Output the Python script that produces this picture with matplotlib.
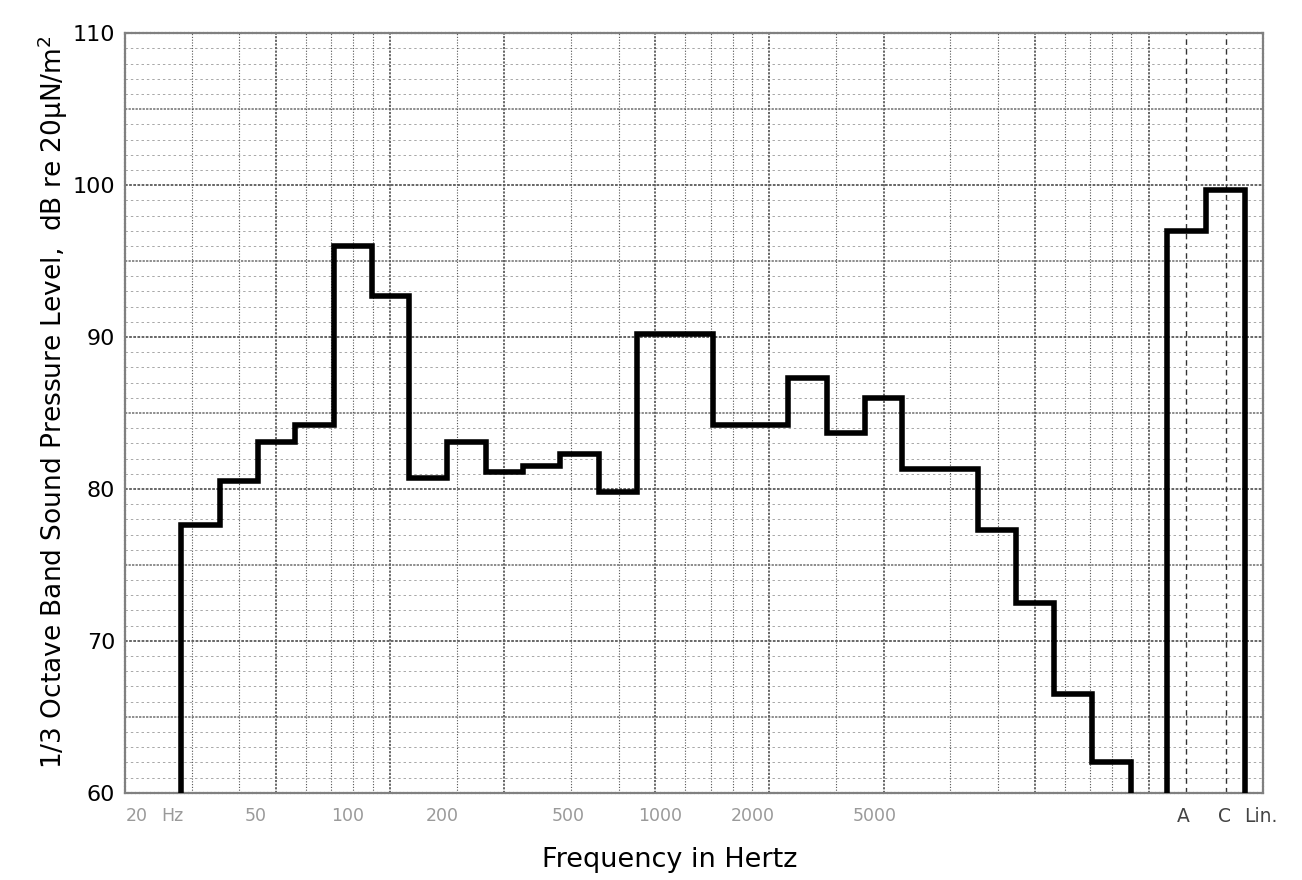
import numpy as np
import matplotlib
matplotlib.use("Agg")
import matplotlib.pyplot as plt

# ---------------- data ----------------
band_centers = [31.5, 40, 50, 63, 80, 100, 125, 160, 200, 250, 315, 400, 500,
                630, 800, 1000, 1250, 1600, 2000, 2500, 3150, 4000, 5000, 6300, 8000]
band_levels = [77.6, 80.5, 83.1, 84.2, 96.0, 92.7, 80.7, 83.1, 81.1, 81.5, 82.3, 79.8,
               90.2, 90.2, 84.2, 84.2, 87.3, 83.7, 86.0, 81.3, 81.3, 77.3, 72.5, 66.5, 62.0]
weight_names = ["A", "C"]
weight_slots = [12500, 16000]          # chart-paper slots used for the weighted levels
weight_levels = [97.0, 99.7]

y_ticks = [60, 70, 80, 90, 100, 110]
x_tick_labels = ["20", "Hz", "50", "100", "200", "500", "1000", "2000", "5000"]
wt_tick_labels = ["A", "C", "Lin."]

# ---------------- layout (label positions on the paper) ----------------
x_tick_pos = [21.5, 26.6, 44.3, 77.4, 137.6, 294, 515, 901, 1891]
wt_tick_pos = [12300, 15800, 19700]


def edges_from_centers(c):
    c = np.asarray(c, float)
    inner = np.sqrt(c[:-1] * c[1:])
    return np.concatenate([[c[0] * 10 ** -0.05], inner, [c[-1] * 10 ** 0.05]])


fig = plt.figure(figsize=(13.02, 8.8), dpi=100)
ax = fig.add_axes([125 / 1302, 1 - 792.7 / 880, 1138 / 1302, (792.7 - 33.3) / 880])
ax.set_xscale("log")
ax.set_xlim(20, 20000)
ax.set_ylim(60, 110)

# ---------- chart paper grid ----------
for v in range(61, 110):
    if v % 10 == 0:
        ax.axhline(v, color="#5a5a5a", lw=1.3, ls=(0, (1.5, 0.8)), zorder=1)
    elif v % 5 == 0:
        ax.axhline(v, color="#6e6e6e", lw=1.1, ls=(0, (1.5, 0.8)), zorder=1)
    else:
        ax.axhline(v, color="#a8a8a8", lw=0.7, ls=(0, (2.5, 3)), zorder=1)

minor_v = [30, 40, 60, 70, 80, 90, 150, 300, 400, 600, 700, 800, 900, 1500,
           3000, 4000, 6000, 7000, 8000, 9000]
major_v = [50, 100, 200, 500, 1000, 2000, 5000, 10000]
for f in minor_v:
    ax.axvline(f, color="#555555", lw=0.8, ls=(0, (1, 1.5)), zorder=1)
for f in major_v:
    ax.axvline(f, color="#5a5a5a", lw=1.3, ls=(0, (1.2, 0.8)), zorder=1)
for f in weight_slots:
    ax.axvline(f, color="#333333", lw=1.0, ls=(0, (4, 3)), zorder=1)

# ---------- spectrum ----------
ax.stairs(band_levels, edges_from_centers(band_centers), baseline=60,
          color="black", lw=4, zorder=3)
ax.stairs(weight_levels, edges_from_centers(weight_slots), baseline=60,
          color="black", lw=4, zorder=3)

# ---------- axes / ticks ----------
for s in ax.spines.values():
    s.set_color("#808080")
    s.set_linewidth(1.6)
    s.set_linestyle((0, (1, 0.7)))

ax.set_yticks(y_ticks)
ax.set_yticklabels([str(t) for t in y_ticks], fontsize=16)
ax.tick_params(axis="y", length=0, pad=7)

ax.xaxis.set_minor_locator(matplotlib.ticker.NullLocator())
ax.set_xticks(x_tick_pos + wt_tick_pos)
ax.set_xticklabels(x_tick_labels + wt_tick_labels, fontsize=12.5)
ax.tick_params(axis="x", length=0, pad=10)
for lab in ax.get_xticklabels():
    if lab.get_text() in wt_tick_labels:
        lab.set_color("#444444")
        lab.set_fontsize(13.5)
    else:
        lab.set_color("#9a9a9a")

ax.set_xlabel("Frequency in Hertz", fontsize=19.5)
ax.xaxis.set_label_coords((670 - 125) / 1138, -0.072)
ax.set_ylabel(r"1/3 Octave Band Sound Pressure Level,  dB re 20μN/m$^{2}$", fontsize=19)
ax.yaxis.set_label_coords(-0.048, 0.515)

fig.savefig("out.png", dpi=100)
